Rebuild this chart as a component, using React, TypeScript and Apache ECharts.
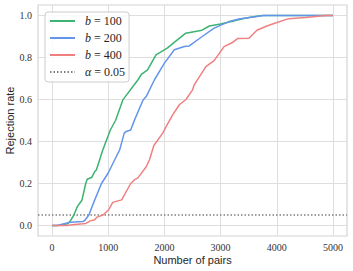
import React, { useEffect, useRef } from "react";
import * as echarts from "echarts";

const X_TICKS = [0, 1000, 2000, 3000, 4000, 5000];
const Y_TICKS = [0, 0.2, 0.4, 0.6, 0.8, 1.0];
const NAMES = ["b = 100", "b = 200", "b = 400", "α = 0.05"];
const ALPHA = 0.05;

const B100: [number, number][] = [
  [0, 0], [100, 0], [180, 0.005], [280, 0.008], [320, 0.02], [389, 0.05], [450, 0.09],
  [531, 0.12], [600, 0.2], [625, 0.22], [710, 0.23], [760, 0.257], [790, 0.265],
  [903, 0.36], [960, 0.4], [1040, 0.456], [1130, 0.5], [1260, 0.598], [1530, 0.694],
  [1590, 0.72], [1700, 0.741], [1850, 0.813], [2050, 0.845], [2230, 0.884],
  [2380, 0.916], [2670, 0.93], [2800, 0.95], [3000, 0.96], [3250, 0.975],
  [3450, 0.988], [3735, 1.0], [5000, 1.0],
];
const B200: [number, number][] = [
  [0, 0], [100, 0], [320, 0.015], [550, 0.019], [585, 0.025], [655, 0.05], [760, 0.122],
  [880, 0.2], [1000, 0.25], [1115, 0.313], [1204, 0.36], [1285, 0.44], [1320, 0.448],
  [1400, 0.455], [1469, 0.503], [1620, 0.598], [1676, 0.614], [1823, 0.694],
  [2000, 0.773], [2177, 0.837], [2354, 0.852], [2443, 0.855], [2673, 0.9],
  [2885, 0.94], [3151, 0.971], [3328, 0.983], [3770, 1.0], [5000, 1.0],
];
const B400: [number, number][] = [
  [0, 0], [265, 0], [400, 0.005], [549, 0.008], [600, 0.01], [680, 0.022], [760, 0.027],
  [800, 0.04], [908, 0.05], [1009, 0.075], [1080, 0.11], [1239, 0.122], [1400, 0.2],
  [1470, 0.218], [1528, 0.227], [1676, 0.28], [1735, 0.313], [1810, 0.38], [1970, 0.44],
  [2030, 0.471], [2147, 0.527], [2266, 0.575], [2384, 0.6], [2501, 0.646],
  [2531, 0.67], [2738, 0.757], [2885, 0.785], [3062, 0.852], [3204, 0.87],
  [3300, 0.89], [3505, 0.892], [3646, 0.93], [3823, 0.95], [3977, 0.964],
  [4213, 0.985], [4514, 0.99], [4868, 1.0], [5000, 1.0],
];

const COLORS = ["#3cb371", "#6495ed", "#f08080", "#808080"];

export default function App() {
  const ref = useRef<HTMLDivElement>(null);
  useEffect(() => {
    if (!ref.current) return;
    const chart = echarts.init(ref.current, null, { renderer: "svg" });
    const serif = "'Liberation Serif', 'DejaVu Serif', serif";
    const sans = "'Liberation Sans', 'DejaVu Sans', sans-serif";
    const lineSeries = (name: string, data: [number, number][], color: string) => ({
      type: "line",
      name,
      data,
      symbol: "none",
      showSymbol: false,
      lineStyle: { color, width: 1.5 },
      itemStyle: { color },
      z: 3,
    });
    chart.setOption({
      animation: false,
      backgroundColor: "#ffffff",
      grid: {
        left: 38,
        right: 6,
        top: 5,
        bottom: 35,
        show: true,
        containLabel: false,
        outerBoundsMode: "none",
        borderColor: "#d4d4d4",
        borderWidth: 1.2,
        backgroundColor: "#ffffff",
      },
      xAxis: {
        type: "value",
        min: -250,
        max: 5250,
        name: "Number of pairs",
        nameLocation: "middle",
        nameGap: 18,
        nameMoveOverlap: false,
        nameTextStyle: { fontFamily: sans, fontSize: 11, color: "#262626" },
        axisLine: { show: false },
        axisTick: { show: false, customValues: X_TICKS },
        axisLabel: {
          customValues: X_TICKS,
          fontFamily: serif,
          fontSize: 10,
          color: "#333333",
          margin: 6,
          formatter: (v: number) => String(v),
        },
        splitLine: { show: true, lineStyle: { color: "#dedede", width: 1 } },
      },
      yAxis: {
        type: "value",
        min: -0.05,
        max: 1.05,
        name: "Rejection rate",
        nameLocation: "middle",
        nameGap: 23,
        nameMoveOverlap: false,
        nameTextStyle: { fontFamily: sans, fontSize: 11, color: "#262626" },
        axisLine: { show: false },
        axisTick: { show: false, customValues: Y_TICKS },
        axisLabel: {
          customValues: Y_TICKS,
          fontFamily: serif,
          fontSize: 10,
          color: "#333333",
          margin: 6,
          formatter: (v: number) => v.toFixed(1),
        },
        splitLine: { show: true, lineStyle: { color: "#dedede", width: 1 } },
      },
      legend: {
        orient: "vertical",
        left: 45,
        top: 12,
        data: NAMES,
        itemWidth: 25,
        itemHeight: 10,
        itemGap: 5,
        padding: [3, 4, 4, 4],
        backgroundColor: "rgba(255,255,255,0.85)",
        borderColor: "#cccccc",
        borderWidth: 1,
        borderRadius: 3,
        itemStyle: { opacity: 0 },
        formatter: (name: string) => `{v|${name[0]}}${name.slice(1)}`,
        textStyle: {
          fontFamily: serif,
          fontSize: 12,
          color: "#262626",
          padding: [0, 0, 0, 5],
          rich: {
            v: { fontFamily: serif, fontStyle: "italic", fontSize: 12, color: "#262626" },
          },
        },
      },
      series: [
        lineSeries(NAMES[0], B100, COLORS[0]),
        lineSeries(NAMES[1], B200, COLORS[1]),
        lineSeries(NAMES[2], B400, COLORS[2]),
        {
          type: "line",
          name: NAMES[3],
          data: [[-250, ALPHA], [5250, ALPHA]],
          symbol: "none",
          showSymbol: false,
          lineStyle: { color: COLORS[3], width: 1.5, type: [1.5, 2] },
          itemStyle: { color: COLORS[3] },
          z: 2,
        },
      ],
    });
    return () => chart.dispose();
  }, []);
  return <div ref={ref} style={{ width: 353, height: 271, position: "absolute", left: 0, top: 0 }} />;
}
